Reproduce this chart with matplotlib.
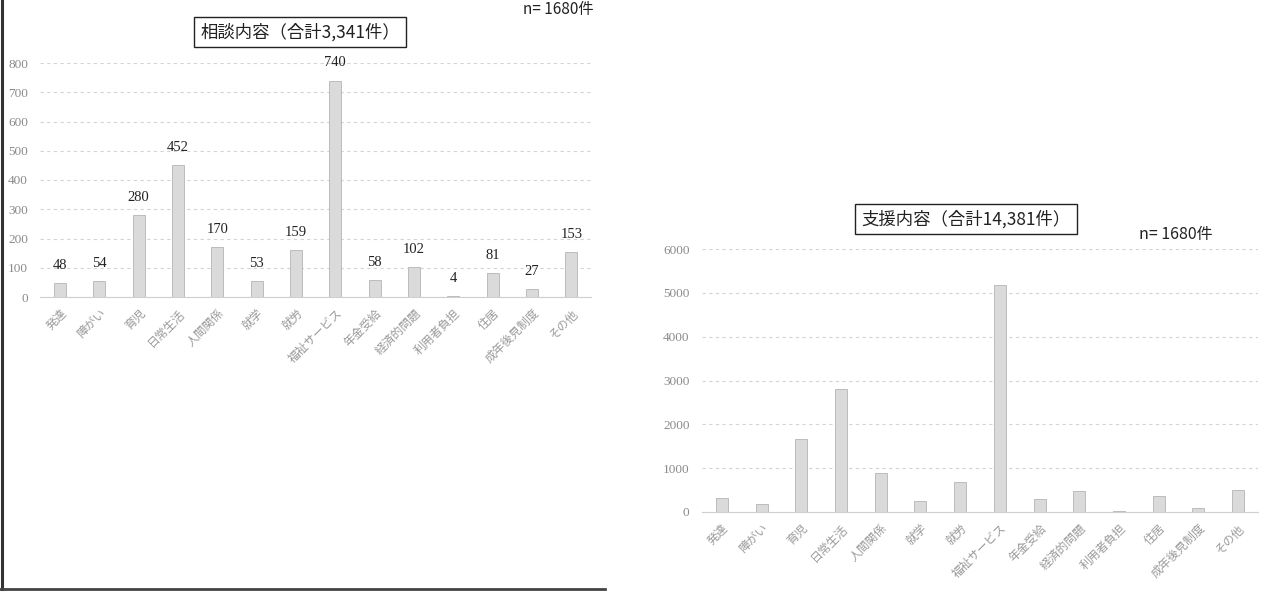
import matplotlib
matplotlib.use("Agg")
import matplotlib.pyplot as plt
from matplotlib.lines import Line2D

plt.rcParams['font.family'] = ['Noto Sans CJK JP', 'DejaVu Sans']

# Consultation topics (left) and support topics (right)
consult_categories = ["発達", "障がい", "育児", "日常生活", "人間関係", "就学", "就労",
                      "福祉サービス", "年金受給", "経済的問題", "利用者負担", "住居",
                      "成年後見制度", "その他"]
consult_values = [48, 54, 280, 452, 170, 53, 159, 740, 58, 102, 4, 81, 27, 153]

support_categories = ["発達", "障がい", "育児", "日常生活", "人間関係", "就学", "就労",
                      "福祉サービス", "年金受給", "経済的問題", "利用者負担", "住居",
                      "成年後見制度", "その他"]
support_values = [330, 190, 1660, 2800, 900, 250, 690, 5190, 290, 470, 15, 360, 80, 500]

consult_title = "相談内容（合計3,341件）"
support_title = "支援内容（合計14,381件）"
n_label = "n= 1680件"

consult_ticks = [0, 100, 200, 300, 400, 500, 600, 700, 800]
support_ticks = [0, 1000, 2000, 3000, 4000, 5000, 6000]

W, H = 1271, 592
fig = plt.figure(figsize=(W / 100, H / 100), dpi=100)
fig.patch.set_facecolor("white")

NUM_FONT = ['Liberation Serif', 'DejaVu Serif']
BAR_FACE = "#dadada"
BAR_EDGE = "#b4b4b4"
GRID = "#d4d4d4"
TICK_COLOR = "#8a8a8a"


def px_axes(x0, x1, y_top, y_bottom):
    return fig.add_axes([x0 / W, 1 - y_bottom / H, (x1 - x0) / W, (y_bottom - y_top) / H])


def style_axes(ax, cats, ticks, top):
    ax.set_ylim(0, top)
    ax.set_xlim(-0.5, len(cats) - 0.5)
    ax.set_yticks(ticks)
    ax.set_yticklabels([str(t) for t in ticks], family=NUM_FONT, fontsize=9.5,
                       color=TICK_COLOR)
    ax.set_xticks(range(len(cats)))
    ax.set_xticklabels(cats, rotation=45, ha="right", va="top",
                       rotation_mode="anchor", fontsize=8.5, color="#9a9a9a")
    ax.tick_params(axis="x", length=0, pad=7)
    ax.tick_params(axis="y", length=0, pad=9)
    for s in ("top", "right", "left"):
        ax.spines[s].set_visible(False)
    ax.spines["bottom"].set_color("#cfcfcf")
    ax.spines["bottom"].set_linewidth(0.8)
    ax.yaxis.grid(True, color=GRID, linestyle=(0, (3, 3)), linewidth=0.8)
    ax.set_axisbelow(True)
    ax.set_facecolor("none")


# Left chart: consultation counts with value labels
ax1 = px_axes(40.4, 591, 63, 297)
x1 = range(len(consult_categories))
ax1.bar(x1, consult_values, width=0.3, color=BAR_FACE, edgecolor=BAR_EDGE,
        linewidth=0.6)
style_axes(ax1, consult_categories, consult_ticks, 800)
for xi, v in zip(x1, consult_values):
    ax1.annotate(str(v), (xi, v), xytext=(0, 8), textcoords="offset points",
                 ha="center", va="bottom", family=NUM_FONT, fontsize=10.5,
                 color="#222222")

fig.text(300 / W, 1 - 32 / H, consult_title, ha="center", va="center", fontsize=12.5,
         color="#222222",
         bbox=dict(boxstyle="square,pad=0.35", facecolor="white", edgecolor="#222222",
                   linewidth=1.0))
fig.text(558 / W, 1 - 1 / H, n_label, ha="center", va="top", fontsize=11,
         color="#222222")

# Right chart: support counts
ax2 = px_axes(702, 1258, 249, 512)
x2 = range(len(support_categories))
ax2.bar(x2, support_values, width=0.3, color=BAR_FACE, edgecolor=BAR_EDGE,
        linewidth=0.6)
style_axes(ax2, support_categories, support_ticks, 6000)

fig.text(966 / W, 1 - 219 / H, support_title, ha="center", va="center", fontsize=12.5,
         color="#222222",
         bbox=dict(boxstyle="square,pad=0.35", facecolor="white", edgecolor="#222222",
                   linewidth=1.0))
fig.text(1176 / W, 1 - 234 / H, n_label, ha="center", va="center", fontsize=11.5,
         color="#222222")

# Frame around the left panel (left and bottom edges)
fig.add_artist(Line2D([2 / W, 2 / W], [1, 1 - 589 / H], color="#333333",
                      linewidth=2.2, transform=fig.transFigure))
fig.add_artist(Line2D([0, 605 / W], [1 - 589 / H, 1 - 589 / H], color="#444444",
                      linewidth=2.0, transform=fig.transFigure))

fig.savefig("out.png", dpi=100, facecolor="white")
